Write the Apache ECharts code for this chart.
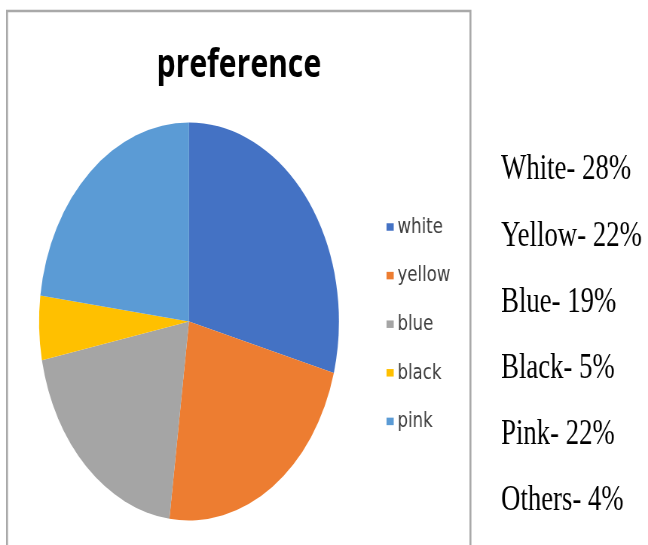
<!DOCTYPE html>
<html>
<head>
<meta charset="utf-8">
<script src="https://cdn.jsdelivr.net/npm/echarts@6/dist/echarts.min.js"></script>
<style>
  html, body { margin: 0; padding: 0; background: #fff; overflow: hidden; }
  #wrap { width: 648px; height: 545px; overflow: hidden; }
  /* the source picture is squeezed sideways, so draw wide and squeeze */
  #chart { width: 860px; height: 545px; transform: scaleX(0.7535); transform-origin: 0 0; }
</style>
</head>
<body>
<div id="wrap"><div id="chart"></div></div>
<script>
const categories = ['white', 'yellow', 'blue', 'black', 'pink'];
const values = [28, 22, 19, 5, 22];
const colors = ['#4472C4', '#ED7D31', '#A5A5A5', '#FFC000', '#5B9BD5'];
const noteNames = ['White', 'Yellow', 'Blue', 'Black', 'Pink', 'Others'];
const notePercents = [28, 22, 19, 5, 22, 4];

const chart = echarts.init(document.getElementById('chart'));

const notes = noteNames.map((n, i) => ({
  type: 'text',
  x: 665,
  y: 170 + i * 66.2,
  style: {
    text: n + '- ' + notePercents[i] + '%',
    font: '35.5px "Liberation Serif"',
    fill: '#000',
    verticalAlign: 'middle'
  }
}));

const option = {
  animation: false,
  title: {
    text: 'preference',
    left: 312,
    top: 41,
    textAlign: 'center',
    textStyle: { fontFamily: 'Open Sans', fontWeight: 'bold', fontSize: 40, color: '#000' }
  },
  color: colors,
  legend: {
    orient: 'vertical',
    left: 508,
    top: 211,
    icon: 'rect',
    itemWidth: 9.5,
    itemHeight: 7.5,
    itemGap: 26.6,
    data: categories,
    textStyle: { fontFamily: 'DejaVu Sans', fontSize: 22, color: '#404040', padding: [4, 0, 0, 0] }
  },
  graphic: [
    {
      type: 'rect',
      shape: { x: 9.3, y: 11, width: 615, height: 600 },
      style: { fill: 'none', stroke: '#a9a9a9', lineWidth: 2.6 }
    }
  ].concat(notes),
  series: [{
    type: 'pie',
    center: [250.8, 321.5],
    radius: 199,
    startAngle: 90,
    clockwise: true,
    label: { show: false },
    labelLine: { show: false },
    itemStyle: { borderWidth: 0 },
    emphasis: { disabled: true },
    data: categories.map((c, i) => ({ name: c, value: values[i] }))
  }]
};

chart.setOption(option);
</script>
</body>
</html>
